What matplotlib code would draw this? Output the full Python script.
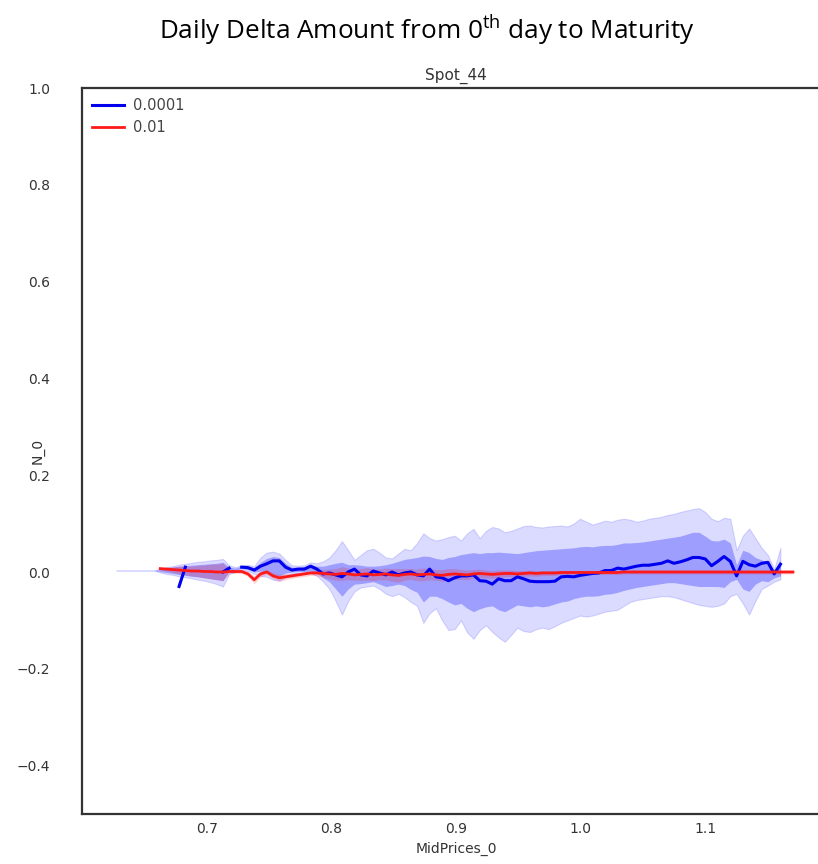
import numpy as np
import matplotlib
matplotlib.use("Agg")
import matplotlib.pyplot as plt

# bin centres of MidPrices_0 (equal-width bins)
mid_prices = np.linspace(0.6276, 1.1703, 109)
nan = np.nan

# tolerance 0.0001 : mean delta and percentile bands
blue_mean = [nan] * 10 + [
    -0.030, 0.010, nan, nan, nan, nan, nan, 0.000, 0.008, nan,
    0.010, 0.009, 0.004, 0.012, 0.017, 0.023, 0.023, 0.010, 0.004, 0.006,
    0.006, 0.012, 0.006, -0.004, -0.002, -0.006, -0.010, 0.000, 0.006, -0.006,
    -0.008, 0.002, -0.002, -0.006, 0.000, -0.006, -0.002, 0.000, -0.006, -0.008,
    0.006, -0.010, -0.012, -0.018, -0.012, -0.008, -0.008, -0.006, -0.018, -0.019,
    -0.025, -0.014, -0.018, -0.018, -0.010, -0.014, -0.019, -0.020, -0.020, -0.020,
    -0.019, -0.010, -0.009, -0.010, -0.007, -0.005, -0.003, -0.002, 0.003, 0.003,
    0.008, 0.006, 0.009, 0.012, 0.014, 0.014, 0.016, 0.018, 0.023, 0.018,
    0.021, 0.025, 0.030, 0.030, 0.027, 0.013, 0.022, 0.032, 0.022, -0.008,
    0.022, 0.015, 0.012, 0.018, 0.020, -0.004, 0.016, nan, nan]

outer_lo = [0.003] * 7 + [
    -0.001, -0.004, -0.006, -0.009, -0.011, -0.013, -0.016, -0.018, -0.021, -0.025,
    -0.030, -0.004, 0.000, 0.004, 0.002, -0.004, -0.008, -0.010, -0.016, -0.018,
    -0.010, -0.004, -0.002, -0.002, -0.002, -0.008, -0.020, -0.035, -0.060, -0.088,
    -0.060, -0.040, -0.032, -0.030, -0.028, -0.035, -0.045, -0.050, -0.045, -0.052,
    -0.062, -0.070, -0.105, -0.085, -0.075, -0.100, -0.120, -0.118, -0.100, -0.125,
    -0.138, -0.120, -0.110, -0.124, -0.135, -0.144, -0.130, -0.115, -0.122, -0.124,
    -0.118, -0.115, -0.118, -0.112, -0.105, -0.100, -0.095, -0.090, -0.092, -0.090,
    -0.086, -0.082, -0.080, -0.078, -0.070, -0.062, -0.058, -0.056, -0.054, -0.052,
    -0.050, -0.050, -0.052, -0.056, -0.060, -0.064, -0.068, -0.070, -0.072, -0.070,
    -0.065, -0.050, -0.045, -0.065, -0.088, -0.060, -0.035, -0.028, -0.020, -0.015,
    nan, nan]

inner_lo = [0.003] * 7 + [
    0.001, -0.001, -0.003, -0.005, -0.007, -0.009, -0.010, -0.012, -0.014, -0.016,
    -0.018, 0.002, 0.004, 0.007, 0.005, 0.000, 0.002, 0.000, -0.005, -0.008,
    -0.002, 0.000, 0.001, 0.001, 0.002, -0.002, -0.012, -0.020, -0.035, -0.050,
    -0.035, -0.025, -0.024, -0.022, -0.020, -0.025, -0.030, -0.028, -0.025, -0.028,
    -0.036, -0.042, -0.062, -0.050, -0.050, -0.055, -0.062, -0.068, -0.065, -0.075,
    -0.082, -0.076, -0.072, -0.070, -0.078, -0.082, -0.075, -0.068, -0.070, -0.072,
    -0.070, -0.072, -0.070, -0.066, -0.062, -0.060, -0.055, -0.052, -0.050, -0.050,
    -0.049, -0.046, -0.045, -0.042, -0.038, -0.035, -0.032, -0.030, -0.028, -0.026,
    -0.024, -0.022, -0.022, -0.024, -0.026, -0.028, -0.030, -0.030, -0.030, -0.030,
    -0.032, -0.020, -0.015, -0.035, -0.040, -0.025, -0.018, -0.020, -0.012, -0.008,
    nan, nan]

inner_hi = [0.003] * 7 + [
    0.005, 0.008, 0.010, 0.012, 0.013, 0.014, 0.015, 0.016, 0.017, 0.018,
    0.020, 0.010, 0.008, 0.012, 0.012, 0.009, 0.020, 0.028, 0.032, 0.030,
    0.018, 0.010, 0.010, 0.011, 0.016, 0.012, 0.012, 0.015, 0.018, 0.020,
    0.015, 0.015, 0.014, 0.012, 0.012, 0.013, 0.015, 0.018, 0.022, 0.026,
    0.028, 0.030, 0.033, 0.032, 0.028, 0.026, 0.030, 0.032, 0.036, 0.038,
    0.040, 0.038, 0.040, 0.040, 0.041, 0.040, 0.039, 0.038, 0.040, 0.042,
    0.044, 0.045, 0.046, 0.047, 0.048, 0.049, 0.050, 0.052, 0.053, 0.052,
    0.054, 0.055, 0.055, 0.057, 0.060, 0.060, 0.061, 0.062, 0.064, 0.066,
    0.068, 0.070, 0.072, 0.074, 0.078, 0.082, 0.082, 0.074, 0.065, 0.064,
    0.068, 0.060, 0.015, 0.045, 0.040, 0.030, 0.025, 0.020, 0.004, 0.025,
    nan, nan]

outer_hi = [0.003] * 7 + [
    0.007, 0.010, 0.012, 0.015, 0.017, 0.019, 0.021, 0.022, 0.024, 0.025,
    0.027, 0.014, 0.010, 0.014, 0.015, 0.012, 0.030, 0.040, 0.042, 0.038,
    0.025, 0.014, 0.013, 0.014, 0.020, 0.018, 0.022, 0.030, 0.045, 0.064,
    0.045, 0.025, 0.035, 0.045, 0.048, 0.040, 0.030, 0.028, 0.038, 0.048,
    0.045, 0.060, 0.080, 0.070, 0.065, 0.068, 0.072, 0.075, 0.065, 0.080,
    0.089, 0.070, 0.085, 0.093, 0.090, 0.082, 0.085, 0.090, 0.095, 0.096,
    0.093, 0.092, 0.094, 0.095, 0.096, 0.094, 0.100, 0.110, 0.104, 0.098,
    0.102, 0.106, 0.104, 0.108, 0.110, 0.108, 0.104, 0.106, 0.110, 0.112,
    0.114, 0.118, 0.120, 0.124, 0.127, 0.130, 0.132, 0.124, 0.110, 0.105,
    0.112, 0.110, 0.045, 0.075, 0.090, 0.070, 0.050, 0.035, 0.006, 0.050,
    nan, nan]

# tolerance 0.01 : mean delta and spread
red_mean = [nan] * 7 + [
    0.007, 0.006, 0.005, 0.004, 0.003, 0.002, 0.002, 0.001, 0.001, 0.000,
    0.000, 0.001, 0.001, 0.001, -0.004, -0.016, -0.004, 0.000, -0.008, -0.012,
    -0.010, -0.008, -0.006, -0.004, -0.002, -0.002, -0.003,
    -0.004, -0.005, -0.003, -0.004, -0.006, -0.005, -0.004, -0.006, -0.005, -0.004,
    -0.006, -0.007, -0.005, -0.004, -0.006, -0.005, -0.004, -0.006, -0.007, -0.005,
    -0.004, -0.005, -0.006, -0.004, -0.003, -0.004, -0.005, -0.004, -0.003, -0.003,
    -0.004, -0.003, -0.002, -0.003, -0.002, -0.002, -0.002] + [-0.001] * 10 + [0.000] * 28

red_spread = [nan] * 7 + [
    0.002, 0.004, 0.006, 0.008, 0.009, 0.010, 0.012, 0.013, 0.015, 0.016,
    0.018, 0.004, 0.004, 0.004, 0.005, 0.008, 0.006, 0.005, 0.006, 0.007,
    0.006, 0.005, 0.005, 0.005, 0.005, 0.006, 0.008,
    0.010, 0.012, 0.014, 0.012, 0.011, 0.012, 0.013, 0.012, 0.011, 0.012,
    0.013, 0.014, 0.012, 0.011, 0.012, 0.013, 0.012, 0.011, 0.012, 0.012,
    0.011, 0.010, 0.010, 0.009, 0.009, 0.008, 0.008, 0.008, 0.007, 0.007,
    0.007, 0.006, 0.006, 0.006, 0.005, 0.005, 0.005] + [0.004] * 38

plt.rcParams['font.family'] = ['DejaVu Sans']
plt.rcParams['mathtext.fontset'] = 'custom'
plt.rcParams['mathtext.rm'] = 'Open Sans'

x = np.asarray(mid_prices)
b_mean = np.asarray(blue_mean, dtype=float)
r_mean = np.asarray(red_mean, dtype=float)
r_spread = np.asarray(red_spread, dtype=float)

fig = plt.figure(figsize=(8.18, 8.64), dpi=100)
ax = fig.add_axes([82 / 818, 50 / 864, 748 / 818, 726 / 864])

# blue bands: outer (lighter) then inner (darker)
ax.fill_between(x, outer_lo, outer_hi, color='blue', alpha=0.14, lw=0.8)
ax.fill_between(x, inner_lo, inner_hi, color='blue', alpha=0.28, lw=0)
ax.plot(x, b_mean, color='#0000ee', lw=2.2, label='0.0001')

# red band and line
ax.fill_between(x, r_mean - r_spread, r_mean + r_spread, color='red', alpha=0.18, lw=0)
ax.plot(x, r_mean, color='#ff1a1a', lw=2.0, label='0.01')

ax.set_xlim(0.6, 1.2)
ax.set_ylim(-0.5, 1.0)
ax.set_xticks([0.7, 0.8, 0.9, 1.0, 1.1])
ax.set_yticks([-0.4, -0.2, 0.0, 0.2, 0.4, 0.6, 0.8, 1.0])
ax.tick_params(length=0, labelsize=10, colors='#333333')
ax.tick_params(axis='x', pad=6)
ax.tick_params(axis='y', pad=23)

for side in ax.spines.values():
    side.set_color('#333333')
    side.set_linewidth(1.6)

ax.set_title('Spot_44', fontsize=11, color='#333333', pad=6)
ax.set_xlabel('MidPrices_0', fontsize=10, color='#333333', labelpad=4)
ax.set_ylabel('N_0', fontsize=10, color='#333333')
ax.yaxis.set_label_coords(-0.05, 0.5)

leg = ax.legend(loc='upper left', frameon=False, fontsize=10.5,
                handlelength=2.2, handletextpad=0.6,
                borderaxespad=0.3, labelspacing=0.5)
for t in leg.get_texts():
    t.set_color('#444444')

fig.text(0.522, 0.965, r'Daily Delta Amount from 0$^{\mathrm{th}}$ day to Maturity',
         family='Open Sans', fontsize=18.8, ha='center', va='center', color='black')

fig.savefig('out.png', dpi=100)
